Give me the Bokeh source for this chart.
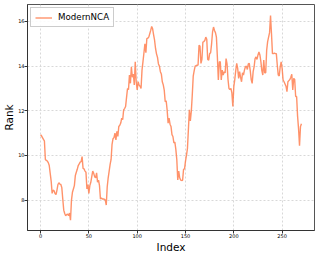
from bokeh.plotting import figure
from bokeh.models import Range1d, FixedTicker, Legend, LegendItem
from bokeh.embed import file_html
from bokeh.resources import INLINE

series_name = "ModernNCA"
rank = [
    10.93, 10.88, 10.8, 10.72, 10.65, 9.82, 9.78, 9.75, 9.68, 9.55,
    9.2, 8.85, 8.3, 8.45, 8.42, 8.3, 8.25, 8.45, 8.7, 8.78,
    8.72, 8.7, 8.56, 8.05, 7.55, 7.4, 7.3, 7.35, 7.38, 7.3,
    7.42, 7.1, 8.0, 8.35, 8.5, 8.65, 9.1, 9.25, 9.38, 9.55,
    9.62, 9.7, 9.72, 9.95, 9.42, 9.4, 9.3, 9.25, 8.5, 8.7,
    8.3, 8.65, 8.8, 9.05, 9.3, 9.2, 9.05, 9.0, 9.22, 8.8,
    8.9, 8.65, 8.05, 8.1, 8.05, 8.05, 8.04, 8.0, 7.78, 8.6,
    9.0, 9.3, 9.6, 9.82, 10.5, 10.75, 10.8, 11.0, 10.7, 11.08,
    10.85, 11.3, 11.35, 11.45, 11.67, 11.6, 12.04, 12.1, 12.19, 12.6,
    13.0, 12.95, 13.6, 13.23, 13.97, 13.5, 13.65, 13.16, 14.19, 13.3,
    12.93, 13.3, 13.15, 13.1, 13.0, 13.82, 14.2, 14.6, 15.0, 14.6,
    15.23, 15.25, 15.3, 15.45, 15.6, 15.78, 15.67, 15.4, 15.16, 14.79,
    14.55, 14.4, 14.1, 14.0, 13.75, 13.65, 13.3, 13.16, 12.93, 12.41,
    12.45, 12.04, 11.45, 11.67, 11.4, 11.3, 10.93, 10.85, 10.56, 10.6,
    10.27, 9.82, 8.9, 9.3, 9.0, 8.9, 8.88, 8.89, 9.38, 9.4,
    9.75, 10.0, 10.3, 11.16, 12.04, 11.55, 11.97, 12.7, 13.55, 13.8,
    14.0, 14.02, 14.04, 14.05, 14.93, 14.9, 14.12, 14.3, 15.08, 15.1,
    15.15, 15.3, 15.2, 14.3, 14.27, 14.56, 14.6, 15.0, 15.53, 15.75,
    15.6, 15.5, 15.3, 14.4, 13.38, 14.19, 14.2, 13.38, 13.82, 13.6,
    13.75, 13.7, 14.34, 14.1, 13.4, 13.0, 12.95, 13.0, 12.8, 12.19,
    13.08, 13.4, 13.8, 14.12, 13.9, 13.45, 13.75, 13.5, 13.3, 13.7,
    13.6, 13.82, 13.97, 14.0, 13.85, 14.1, 14.12, 13.8, 13.4, 13.23,
    13.75, 13.97, 14.34, 14.41, 14.3, 14.5, 14.64, 14.5, 14.2, 13.8,
    13.6, 14.27, 13.7, 13.7, 14.71, 15.1, 15.3, 15.5, 16.27, 15.45,
    14.56, 14.56, 14.58, 14.56, 14.56, 14.04, 13.6, 13.56, 13.97, 14.19,
    13.9, 13.38, 13.3, 13.2, 13.1, 12.86, 13.3, 13.35, 13.4, 13.5,
    13.64, 12.93, 13.45, 13.4, 12.64, 12.64, 11.75, 11.2, 10.44, 11.3,
    11.42,
]
index = list(range(len(rank)))
x_ticks = [0, 50, 100, 150, 200, 250]
y_ticks = [8, 10, 12, 14, 16]

FONT = "DejaVu Sans"
LINE_COLOR = "#FF7F50"

p = figure(width=319, height=255, output_backend="svg", toolbar_location=None,
           x_range=Range1d(-13.5, 283.5), y_range=Range1d(6.64, 16.76),
           min_border_left=0, min_border_right=5, min_border_top=4, min_border_bottom=0)

r = p.line(index, rank, line_color=LINE_COLOR, line_width=1.4, line_alpha=0.85)

p.xaxis.ticker = FixedTicker(ticks=x_ticks)
p.yaxis.ticker = FixedTicker(ticks=y_ticks)
p.xaxis.axis_label = "Index"
p.yaxis.axis_label = "Rank"
for ax in (p.xaxis, p.yaxis):
    ax.axis_label_text_font = FONT
    ax.axis_label_text_font_size = "10.5px"
    ax.axis_label_text_font_style = "normal"
    ax.axis_label_text_color = "black"
    ax.axis_label_standoff = 0
    ax.major_label_text_font = FONT
    ax.major_label_text_font_size = "5px"
    ax.major_label_text_color = "black"
    ax.major_label_standoff = 0
    ax.major_tick_out = 3
    ax.major_tick_in = 0
    ax.minor_tick_line_color = None
    ax.axis_line_color = "#333333"
    ax.major_tick_line_color = "#333333"

p.outline_line_color = "#555555"
p.outline_line_width = 1
p.xgrid.grid_line_color = "#d8d8d8"
p.ygrid.grid_line_color = "#d8d8d8"
p.xgrid.grid_line_dash = "2 2"
p.ygrid.grid_line_dash = "2 2"

legend = Legend(items=[LegendItem(label=series_name, renderers=[r])], location="top_left")
legend.label_text_font = FONT
legend.label_text_font_size = "8.7px"
legend.label_text_color = "black"
legend.glyph_width = 17
legend.glyph_height = 9
legend.label_standoff = 6
legend.padding = 4
legend.margin = 3
legend.border_line_color = "#cccccc"
legend.border_line_alpha = 1
legend.background_fill_alpha = 0.9
p.add_layout(legend)

open("out.html", "w").write(file_html(p, INLINE))
